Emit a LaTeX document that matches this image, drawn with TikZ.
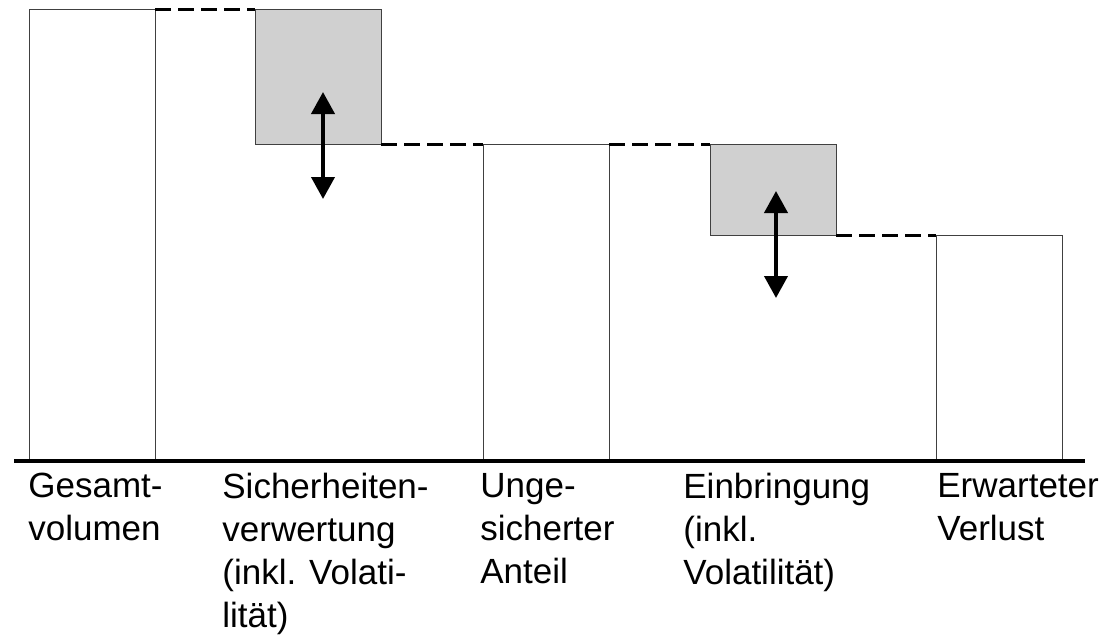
\documentclass[tikz,border=0pt]{standalone}
\usepackage{fontspec}
\setmainfont{Liberation Sans}
\usetikzlibrary{arrows.meta}
\definecolor{kastengrau}{RGB}{208,208,208}
\tikzset{
  saeule/.style={draw=black!75, line width=0.5pt, inner sep=0pt, outer sep=0pt, minimum width=63pt, anchor=south west},
  anteil/.style={saeule, fill=kastengrau, anchor=north west},
  stufe/.style={line width=1.5pt, dash pattern=on 8pt off 3.5pt},
  pfeil/.style={line width=2pt, {Triangle[width=11.5pt,length=11pt]}-{Triangle[width=11.5pt,length=11pt]}},
  beschr/.style={anchor=north west, inner sep=0pt, align=left, font=\fontsize{17.5}{21.5}\selectfont}
}
\begin{document}
\begin{tikzpicture}[x=0.5pt,y=-0.5pt]
  \useasboundingbox (0,0) rectangle (1116,638);
  \node[saeule, minimum height=226pt] (gesamt) at (29,461) {};
  \node[anteil, minimum height=67.5pt] (sicher) at (255,9) {};
  \node[saeule, minimum height=158.5pt] (unges) at (483,461) {};
  \node[anteil, minimum height=45.5pt] (einbr) at (710,144) {};
  \node[saeule, minimum height=113pt] (verlust) at (936,461) {};
  \draw[stufe] (gesamt.north east) -- (sicher.north west);
  \draw[stufe] (sicher.south east) -- (unges.north west);
  \draw[stufe] (unges.north east) -- (einbr.north west);
  \draw[stufe] (einbr.south east) -- (verlust.north west);
  \coordinate (achsel) at (14,461);
  \coordinate (achser) at (1085,461);
  \draw[line width=2pt] (achsel) -- (achser);
  \coordinate (p1o) at (323,92);
  \coordinate (p1u) at (323,199);
  \coordinate (p2o) at (776,191);
  \coordinate (p2u) at (776,298);
  \draw[pfeil] (p1o) -- (p1u);
  \draw[pfeil] (p2o) -- (p2u);
  \foreach \n/\x/\t in {l1/28/{Gesamt-\\volumen},
    l2/222/{Sicherheiten-\\verwertung\\(inkl. Volati-\\lität)},
    l3/480/{Unge-\\sicherter\\Anteil},
    l4/683/{Einbringung\\(inkl.\\Volatilität)},
    l5/937/{Erwarteter\\Verlust}}
    \node[beschr] (\n) at (\x,473) {\t};
\end{tikzpicture}
\end{document}
